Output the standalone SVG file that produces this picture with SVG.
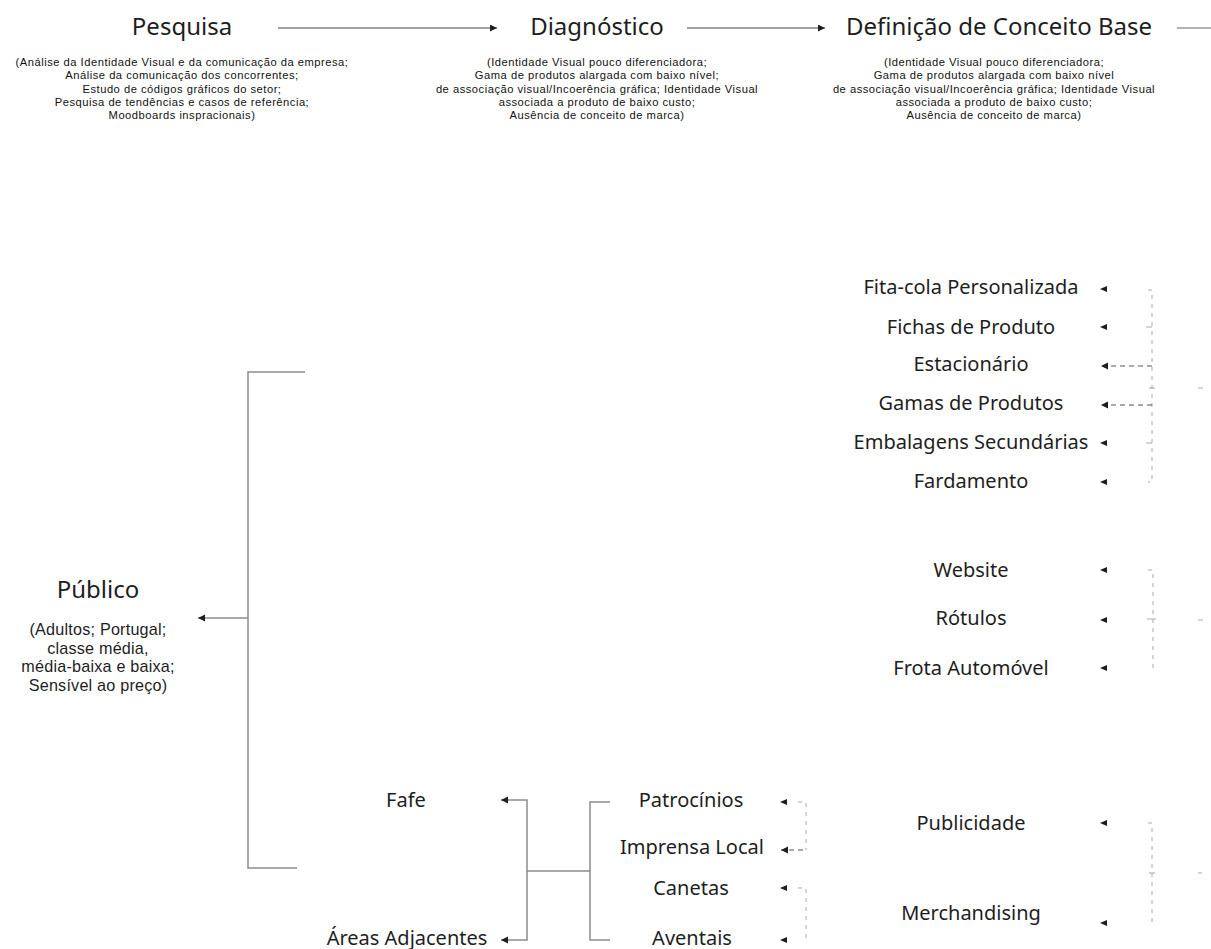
<svg xmlns="http://www.w3.org/2000/svg" xmlns:xlink="http://www.w3.org/1999/xlink" width="1211" height="949" viewBox="0 0 1211 949">
<style>
.t{font-family:"Noto Sans","Open Sans",sans-serif;fill:#1e1e1e;text-anchor:middle}
.h{font-size:24px}
.s{font-family:"Liberation Sans","Noto Sans",sans-serif;font-size:11.2px;letter-spacing:0.5px;fill:#111}
.m{font-size:20px}
.p{font-family:"Liberation Sans","Noto Sans",sans-serif;font-size:16.2px;letter-spacing:0.2px}
.ln{stroke:#444;stroke-width:1;fill:none}
.lg{stroke:#999;stroke-width:1.5;fill:none}
.br{stroke:#8c8c8c;stroke-width:1.5;fill:none}
.ds{stroke:#aaa;stroke-width:1;stroke-dasharray:4 5;fill:none}
.dd{stroke:#555;stroke-width:1.2;stroke-dasharray:5 4;fill:none}
.tk{stroke:#aaa;stroke-width:1;fill:none}
</style>
<defs>
<marker id="arr" markerUnits="userSpaceOnUse" markerWidth="8" markerHeight="8" refX="7" refY="3.5" orient="auto"><path d="M0,0 L7,3.5 L0,7 Z" fill="#1e1e1e"/></marker>
<path id="al" d="M0,0 L7,-3 L7,3 Z" fill="#1e1e1e"/>
</defs>

<g id="connectors">
<path class="ln" d="M278,28 H497" marker-end="url(#arr)"/>
<path class="ln" d="M687,28 H825" marker-end="url(#arr)"/>
<path class="lg" d="M1177,28 H1211"/>
<path class="br" d="M305,372 H248 V868 H297"/>
<path class="br" d="M248,618 H198" marker-end="url(#arr)"/>
<path class="br" d="M610,802 H590 V940 H610"/>
<path class="br" d="M590,871 H527"/>
<path class="br" d="M527,871 V800 H501" marker-end="url(#arr)"/>
<path class="br" d="M527,871 V940 H501" marker-end="url(#arr)"/>
<path class="ds" d="M798,802 H806 V850"/>
<path class="dd" d="M803,850 H781" stroke-dasharray="5 9" marker-end="url(#arr)"/>
<use xlink:href="#al" x="780" y="802"/>
<path class="ds" d="M798,888 H806 V940"/>
<use xlink:href="#al" x="780" y="888"/>
<use xlink:href="#al" x="780" y="940"/>
<path class="ds" d="M1148,290 H1152 V482 H1148"/>
<path class="tk" d="M1146,327 H1152 M1146,443 H1152 M1149,388 H1155 M1198,388 H1203"/>
<use xlink:href="#al" x="1100" y="289"/>
<use xlink:href="#al" x="1100" y="327"/>
<path class="dd" d="M1152,366 H1101" stroke-dasharray="6 5" marker-end="url(#arr)"/>
<path class="dd" d="M1152,405 H1101" stroke-dasharray="6 5" marker-end="url(#arr)"/>
<use xlink:href="#al" x="1100" y="443"/>
<use xlink:href="#al" x="1100" y="482"/>
<path class="ds" d="M1148,570 H1153 V668 H1148"/>
<path class="tk" d="M1147,619 H1156 M1198,620 H1203"/>
<use xlink:href="#al" x="1100" y="570"/>
<use xlink:href="#al" x="1100" y="620"/>
<use xlink:href="#al" x="1100" y="668"/>
<path class="ds" d="M1148,823 H1152 V923 H1148"/>
<path class="tk" d="M1149,873 H1155 M1198,873 H1202"/>
<use xlink:href="#al" x="1100" y="823"/>
<use xlink:href="#al" x="1100" y="923"/>
</g>

<g id="pesquisa">
<text class="t h" x="182" y="35">Pesquisa</text>
<text class="t s" x="182" y="66">(Análise da Identidade Visual e da comunicação da empresa;</text>
<text class="t s" x="182" y="79.25">Análise da comunicação dos concorrentes;</text>
<text class="t s" x="182" y="92.5">Estudo de códigos gráficos do setor;</text>
<text class="t s" x="182" y="105.75">Pesquisa de tendências e casos de referência;</text>
<text class="t s" x="182" y="119">Moodboards inspracionais)</text>
</g>
<g id="diagnostico">
<text class="t h" x="597" y="35">Diagnóstico</text>
<text class="t s" x="597" y="66">(Identidade Visual pouco diferenciadora;</text>
<text class="t s" x="597" y="79.25">Gama de produtos alargada com baixo nível;</text>
<text class="t s" x="597" y="92.5">de associação visual/Incoerência gráfica; Identidade Visual</text>
<text class="t s" x="597" y="105.75">associada a produto de baixo custo;</text>
<text class="t s" x="597" y="119">Ausência de conceito de marca)</text>
</g>
<g id="definicao">
<text class="t h" x="999" y="35">Definição de Conceito Base</text>
<text class="t s" x="994" y="66">(Identidade Visual pouco diferenciadora;</text>
<text class="t s" x="994" y="79.25">Gama de produtos alargada com baixo nível</text>
<text class="t s" x="994" y="92.5">de associação visual/Incoerência gráfica; Identidade Visual</text>
<text class="t s" x="994" y="105.75">associada a produto de baixo custo;</text>
<text class="t s" x="994" y="119">Ausência de conceito de marca)</text>
</g>
<g id="publico">
<text class="t h" x="98" y="598">Público</text>
<text class="t p" x="98" y="635">(Adultos; Portugal;</text>
<text class="t p" x="98" y="653.7">classe média,</text>
<text class="t p" x="98" y="672.4">média-baixa e baixa;</text>
<text class="t p" x="98" y="691.1">Sensível ao preço)</text>
</g>
<g id="fita-cola"><text class="t m" x="971" y="294">Fita-cola Personalizada</text></g>
<g id="fichas"><text class="t m" x="971" y="334">Fichas de Produto</text></g>
<g id="estacionario"><text class="t m" x="971" y="371">Estacionário</text></g>
<g id="gamas"><text class="t m" x="971" y="410">Gamas de Produtos</text></g>
<g id="embalagens"><text class="t m" x="971" y="449">Embalagens Secundárias</text></g>
<g id="fardamento"><text class="t m" x="971" y="488">Fardamento</text></g>
<g id="website"><text class="t m" x="971" y="577">Website</text></g>
<g id="rotulos"><text class="t m" x="971" y="625">Rótulos</text></g>
<g id="frota"><text class="t m" x="971" y="675">Frota Automóvel</text></g>
<g id="publicidade"><text class="t m" x="971" y="830">Publicidade</text></g>
<g id="merchandising"><text class="t m" x="971" y="920">Merchandising</text></g>
<g id="fafe"><text class="t m" x="406" y="807">Fafe</text></g>
<g id="areas"><text class="t m" x="407" y="945">Áreas Adjacentes</text></g>
<g id="patrocinios"><text class="t m" x="691" y="807">Patrocínios</text></g>
<g id="imprensa"><text class="t m" x="692" y="854">Imprensa Local</text></g>
<g id="canetas"><text class="t m" x="691" y="895">Canetas</text></g>
<g id="aventais"><text class="t m" x="692" y="945">Aventais</text></g>
</svg>
